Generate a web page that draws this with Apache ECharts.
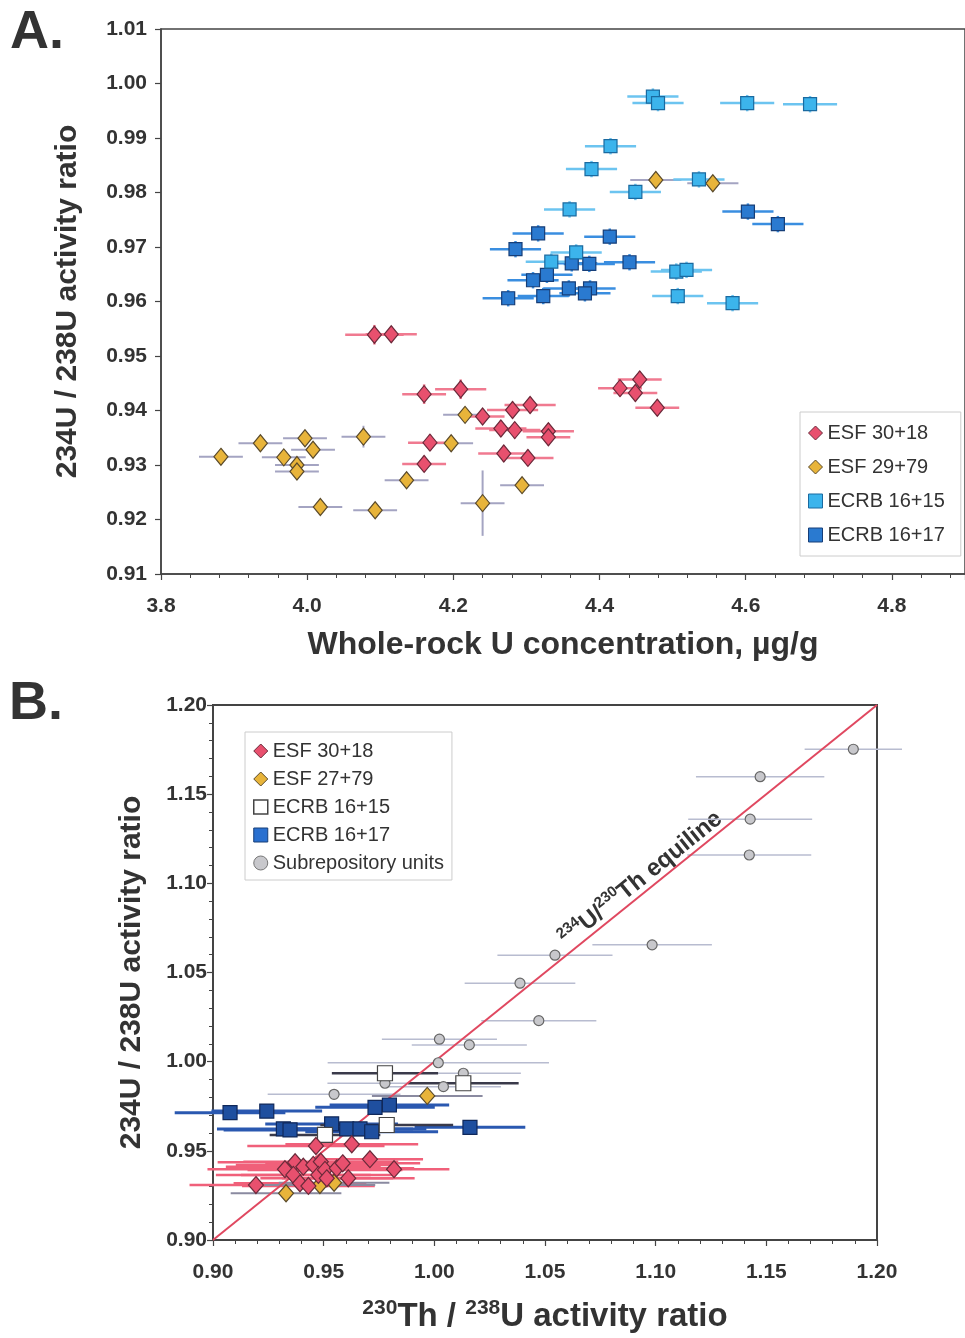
<!DOCTYPE html>
<html>
<head>
<meta charset="utf-8">
<script src="https://cdn.jsdelivr.net/npm/echarts@6/dist/echarts.min.js"></script>
<style>
  body { margin: 0; background: #fff; }
  #main { width: 965px; height: 1338px; }
</style>
</head>
<body>
<div id="main"></div>
<script>
// panel A: [U conc µg/g, 234U/238U, ±x, ±y]
var esf3018A = [
  [4.092, 0.9539, 0.040, 0.0018], [4.115, 0.9540, 0.035, 0.0015],
  [4.160, 0.9430, 0.030, 0.0018], [4.210, 0.9439, 0.035, 0.0018],
  [4.240, 0.9389, 0.030, 0.0012], [4.281, 0.9401, 0.035, 0.0015],
  [4.305, 0.9410, 0.035, 0.0015], [4.265, 0.9367, 0.035, 0.0015],
  [4.284, 0.9364, 0.035, 0.0015], [4.330, 0.9362, 0.035, 0.0015],
  [4.330, 0.9351, 0.030, 0.0015], [4.168, 0.9341, 0.030, 0.0015],
  [4.160, 0.9302, 0.030, 0.0015], [4.269, 0.9321, 0.035, 0.0015],
  [4.302, 0.9313, 0.035, 0.0015], [4.428, 0.9441, 0.030, 0.0015],
  [4.455, 0.9457, 0.030, 0.0015], [4.449, 0.9432, 0.030, 0.0015],
  [4.479, 0.9405, 0.030, 0.0015]
];
var esf2979A = [
  [3.882, 0.9315, 0.030, 0.0012], [3.936, 0.9340, 0.030, 0.0012],
  [3.997, 0.9349, 0.030, 0.0012], [4.008, 0.9328, 0.030, 0.0012],
  [3.968, 0.9314, 0.030, 0.0012], [3.986, 0.9300, 0.030, 0.0012],
  [3.986, 0.9288, 0.030, 0.0012], [4.077, 0.9352, 0.030, 0.0020],
  [4.197, 0.9340, 0.030, 0.0015], [4.216, 0.9392, 0.030, 0.0012],
  [4.136, 0.9272, 0.030, 0.0012], [4.018, 0.9223, 0.030, 0.0012],
  [4.093, 0.9217, 0.030, 0.0012], [4.240, 0.9230, 0.030, 0.0060],
  [4.294, 0.9263, 0.030, 0.0012], [4.477, 0.9823, 0.035, 0.0015],
  [4.555, 0.9817, 0.035, 0.0015]
];
var ecrb1615A = [
  [4.473, 0.9976, 0.035, 0.0015], [4.480, 0.9964, 0.035, 0.0015],
  [4.602, 0.9964, 0.037, 0.0015], [4.688, 0.9962, 0.037, 0.0015],
  [4.415, 0.9885, 0.035, 0.0015], [4.389, 0.9843, 0.035, 0.0015],
  [4.449, 0.9801, 0.035, 0.0015], [4.536, 0.9824, 0.035, 0.0015],
  [4.359, 0.9769, 0.035, 0.0015], [4.368, 0.9690, 0.035, 0.0015],
  [4.334, 0.9673, 0.035, 0.0015], [4.505, 0.9655, 0.035, 0.0015],
  [4.519, 0.9658, 0.035, 0.0015], [4.507, 0.9610, 0.035, 0.0015],
  [4.582, 0.9597, 0.035, 0.0015]
];
var ecrb1617A = [
  [4.603, 0.9765, 0.035, 0.0015], [4.644, 0.9742, 0.035, 0.0015],
  [4.316, 0.9725, 0.035, 0.0015], [4.414, 0.9719, 0.035, 0.0015],
  [4.285, 0.9696, 0.035, 0.0015], [4.362, 0.9670, 0.035, 0.0015],
  [4.386, 0.9669, 0.035, 0.0015], [4.441, 0.9672, 0.035, 0.0015],
  [4.309, 0.9639, 0.035, 0.0015], [4.328, 0.9649, 0.035, 0.0015],
  [4.358, 0.9624, 0.035, 0.0015], [4.387, 0.9624, 0.035, 0.0015],
  [4.380, 0.9615, 0.035, 0.0015], [4.323, 0.9610, 0.035, 0.0015],
  [4.275, 0.9606, 0.035, 0.0015]
];

// panel B: [230Th/238U, 234U/238U, ±x, ±y]
var esf3018B = [
  [0.9465, 0.9527, 0.031, 0], [0.9627, 0.9537, 0.030, 0],
  [0.9709, 0.9453, 0.024, 0], [0.9818, 0.9397, 0.025, 0],
  [0.9194, 0.9308, 0.030, 0], [0.9325, 0.9397, 0.035, 0],
  [0.9371, 0.9436, 0.035, 0], [0.9363, 0.9365, 0.035, 0],
  [0.9408, 0.9411, 0.035, 0], [0.9393, 0.9318, 0.030, 0],
  [0.9431, 0.9303, 0.030, 0], [0.9453, 0.9421, 0.035, 0],
  [0.9487, 0.9439, 0.035, 0], [0.9476, 0.9365, 0.035, 0],
  [0.9506, 0.9393, 0.035, 0], [0.9559, 0.9402, 0.035, 0],
  [0.9586, 0.9430, 0.035, 0], [0.9611, 0.9346, 0.030, 0],
  [0.9514, 0.9346, 0.030, 0]
];
var esf2779B = [
  [0.9968, 0.9808, 0.025, 0], [0.9330, 0.9262, 0.025, 0],
  [0.9483, 0.9308, 0.025, 0], [0.9547, 0.9321, 0.025, 0]
];
var ecrb1615B = [
  [0.9777, 0.9935, 0.024, 0], [1.0131, 0.9879, 0.025, 0],
  [0.9785, 0.9645, 0.030, 0], [0.9506, 0.9589, 0.025, 0]
];
var ecrb1617B = [
  [0.9077, 0.9714, 0.025, 0], [0.9243, 0.9723, 0.025, 0],
  [0.9732, 0.9744, 0.027, 0], [0.9797, 0.9757, 0.027, 0],
  [1.0161, 0.9632, 0.025, 0], [0.9318, 0.9623, 0.030, 0],
  [0.9348, 0.9617, 0.030, 0], [0.9536, 0.9651, 0.030, 0],
  [0.9604, 0.9623, 0.030, 0], [0.9664, 0.9623, 0.030, 0],
  [0.9717, 0.9607, 0.030, 0]
];
var subrepB = [
  [1.1893, 1.1752, 0.022, 0], [1.1472, 1.1598, 0.029, 0],
  [1.1427, 1.1360, 0.028, 0], [1.1423, 1.1159, 0.028, 0],
  [1.0984, 1.0655, 0.027, 0], [1.0545, 1.0597, 0.026, 0],
  [1.0387, 1.0440, 0.025, 0], [1.0472, 1.0230, 0.026, 0],
  [1.0023, 1.0126, 0.026, 0], [1.0158, 1.0094, 0.026, 0],
  [1.0018, 0.9994, 0.050, 0], [1.0131, 0.9935, 0.026, 0],
  [0.9777, 0.9879, 0.026, 0], [0.9547, 0.9817, 0.030, 0],
  [1.0041, 0.9860, 0.026, 0]
];
var equiline = [0.90, 1.20];

var rangeAx = [3.8, 4.9], rangeAy = [0.91, 1.01];
var rangeB = [0.90, 1.20];

var fontF = "'Liberation Sans', Arial, sans-serif";
var ink = '#333';

var myChart = echarts.init(document.getElementById('main'));

function pts(d) {
  return d.map(function (p) { return [p[0], p[1]]; });
}

function errSeries(d, gi, color, width) {
  return {
    type: 'custom', xAxisIndex: gi, yAxisIndex: gi, data: d, z: 1, silent: true,
    encode: { x: 0, y: 1 },
    renderItem: function (params, api) {
      var x = api.value(0), y = api.value(1), xe = api.value(2), ye = api.value(3);
      var a = api.coord([x - xe, y]), b = api.coord([x + xe, y]);
      var ch = [{ type: 'line', shape: { x1: a[0], y1: a[1], x2: b[0], y2: b[1] },
                  style: { stroke: color, lineWidth: width } }];
      if (ye > 0) {
        var c = api.coord([x, y - ye]), e = api.coord([x, y + ye]);
        ch.push({ type: 'line', shape: { x1: c[0], y1: c[1], x2: e[0], y2: e[1] },
                  style: { stroke: color, lineWidth: width } });
      }
      return { type: 'group', children: ch };
    }
  };
}

function dots(name, d, gi, symbol, size, fill, border) {
  return {
    type: 'scatter', name: name, xAxisIndex: gi, yAxisIndex: gi, data: pts(d), z: 3,
    symbol: symbol, symbolSize: size,
    itemStyle: { color: fill, borderColor: border, borderWidth: 1.2, opacity: 1 }
  };
}

function valAxis(gi, range, interval, digits, extra) {
  var ax = {
    type: 'value', gridIndex: gi, min: range[0], max: range[1], interval: interval,
    axisLine: { show: true, lineStyle: { color: '#444', width: 1.5 } },
    axisTick: { show: true, length: 6, lineStyle: { color: '#444', width: 1.2 } },
    splitLine: { show: false },
    axisLabel: {
      color: ink, fontFamily: fontF, fontWeight: 'bold', fontSize: 21,
      formatter: function (v) { return v.toFixed(digits); }
    },
    nameLocation: 'middle',
    nameTextStyle: { color: ink, fontFamily: fontF, fontWeight: 'bold' }
  };
  for (var k in extra) ax[k] = extra[k];
  return ax;
}

var legendText = { color: ink, fontFamily: fontF, fontSize: 20 };

var option = {
  animation: false,
  backgroundColor: '#fff',
  grid: [
    { left: 161, top: 29, width: 810, height: 545, show: true, borderColor: '#444', borderWidth: 1.5 },
    { left: 213, top: 705, width: 664, height: 535, show: true, borderColor: '#444', borderWidth: 2 }
  ],
  xAxis: [
    valAxis(0, rangeAx, 0.2, 1, {
      minorTick: { show: true, splitNumber: 5, length: 4, lineStyle: { color: '#444' } },
      name: 'Whole-rock U concentration, µg/g', nameGap: 55,
      nameTextStyle: { color: ink, fontFamily: fontF, fontWeight: 'bold', fontSize: 32 }
    }),
    valAxis(1, rangeB, 0.05, 2, {
      minorTick: { show: true, splitNumber: 5, length: 4, lineStyle: { color: '#444' } },
      name: '{s|230}{b|Th / }{s|238}{b|U activity ratio}', nameGap: 58,
      nameTextStyle: {
        rich: {
          s: { fontFamily: fontF, fontWeight: 'bold', fontSize: 21, color: ink, verticalAlign: 'top', lineHeight: 35 },
          b: { fontFamily: fontF, fontWeight: 'bold', fontSize: 33, color: ink, verticalAlign: 'bottom', lineHeight: 35 }
        }
      }
    })
  ],
  yAxis: [
    valAxis(0, rangeAy, 0.01, 2, {
      name: '234U / 238U activity ratio', nameGap: 78, nameRotate: 90,
      nameTextStyle: { color: ink, fontFamily: fontF, fontWeight: 'bold', fontSize: 30 }
    }),
    valAxis(1, rangeB, 0.05, 2, {
      minorTick: { show: true, splitNumber: 5, length: 4, lineStyle: { color: '#444' } },
      name: '234U / 238U activity ratio', nameGap: 66, nameRotate: 90,
      nameTextStyle: { color: ink, fontFamily: fontF, fontWeight: 'bold', fontSize: 30 }
    })
  ],
  legend: [
    {
      left: 800, top: 412, orient: 'vertical', itemGap: 14, itemWidth: 14, itemHeight: 14,
      padding: [11, 16, 11, 8], backgroundColor: '#fff', borderColor: '#ccc', borderWidth: 1,
      textStyle: legendText,
      selectedMode: false,
      data: [
        { name: 'ESF 30+18', icon: 'diamond', itemStyle: { color: '#e8506e', borderColor: '#6a2a3a', borderWidth: 1 } },
        { name: 'ESF 29+79', icon: 'diamond', itemStyle: { color: '#e8b43a', borderColor: '#5a4a2a', borderWidth: 1 } },
        { name: 'ECRB 16+15', icon: 'rect', itemStyle: { color: '#3cb4ec', borderColor: '#1a6aa0', borderWidth: 1 } },
        { name: 'ECRB 16+17', icon: 'rect', itemStyle: { color: '#2a7ad0', borderColor: '#163e78', borderWidth: 1 } }
      ]
    },
    {
      left: 245, top: 732, orient: 'vertical', itemGap: 8, itemWidth: 14, itemHeight: 14,
      padding: [9, 8, 7, 8], backgroundColor: '#fff', borderColor: '#ccc', borderWidth: 1,
      textStyle: legendText,
      selectedMode: false,
      data: [
        { name: 'ESF 30+18', icon: 'diamond', itemStyle: { color: '#e8506e', borderColor: '#6a2a3a', borderWidth: 1 } },
        { name: 'ESF 27+79', icon: 'diamond', itemStyle: { color: '#e8b43a', borderColor: '#5a4a2a', borderWidth: 1 } },
        { name: 'ECRB 16+15', icon: 'rect', itemStyle: { color: '#fff', borderColor: '#444', borderWidth: 1.5 } },
        { name: 'ECRB 16+17', icon: 'rect', itemStyle: { color: '#2a70d0', borderColor: '#163e78', borderWidth: 1 } },
        { name: 'Subrepository units', icon: 'circle', itemStyle: { color: '#c8c8cc', borderColor: '#777', borderWidth: 1 } }
      ]
    }
  ],
  graphic: [
    { id: 'labA', type: 'text', left: 10, top: 6, style: { text: 'A.', font: 'bold 54px ' + fontF, fill: ink } },
    { id: 'labB', type: 'text', left: 9, top: 677, style: { text: 'B.', font: 'bold 54px ' + fontF, fill: ink } }
  ],
  series: [
    // panel A
    errSeries(esf2979A, 0, '#a4a4c2', 2),
    errSeries(esf3018A, 0, '#f07a90', 2.5),
    errSeries(ecrb1617A, 0, '#3a8ee0', 2.5),
    errSeries(ecrb1615A, 0, '#6cc4f0', 2.5),
    dots('ESF 29+79', esf2979A, 0, 'diamond', [14, 17], '#e8b43a', '#5a4a2a'),
    dots('ESF 30+18', esf3018A, 0, 'diamond', [14, 17], '#e8506e', '#6a2a3a'),
    dots('ECRB 16+17', ecrb1617A, 0, 'rect', 13, '#2a7ad0', '#163e78'),
    dots('ECRB 16+15', ecrb1615A, 0, 'rect', 13, '#3cb4ec', '#1a6aa0'),
    // panel B
    errSeries(subrepB, 1, '#b8bcd0', 1.5),
    {
      type: 'line', xAxisIndex: 1, yAxisIndex: 1, z: 2, silent: true, symbol: 'none',
      data: [[equiline[0], equiline[0]], [equiline[1], equiline[1]]],
      lineStyle: { color: '#e04860', width: 2 }
    },
    errSeries(esf3018B, 1, '#f0607a', 2.5),
    errSeries(esf2779B, 1, '#8a8aa0', 2),
    errSeries(ecrb1617B, 1, '#2a58b0', 3),
    errSeries(ecrb1615B, 1, '#3a3a4a', 2.5),
    dots('Subrepository units', subrepB, 1, 'circle', 10, '#c8c8cc', '#666'),
    dots('ECRB 16+17', ecrb1617B, 1, 'rect', 14, '#1f4f9f', '#10285a'),
    dots('ECRB 16+15', ecrb1615B, 1, 'rect', 15, '#fff', '#444'),
    dots('ESF 27+79', esf2779B, 1, 'diamond', [15, 17], '#e8b43a', '#5a4a2a'),
    dots('ESF 30+18', esf3018B, 1, 'diamond', [15, 17], '#e8506e', '#6a2a3a')
  ]
};
option.xAxis[0].axisLabel.showMaxLabel = false;
option.xAxis[0].axisLabel.margin = 22;
option.xAxis[1].axisLabel.margin = 22;
option.yAxis[0].axisLabel.margin = 14;
option.yAxis[1].axisLabel.margin = 6;

myChart.setOption(option);

// equiline label, rotated along the 1:1 line
var p0 = myChart.convertToPixel({ gridIndex: 1 }, [equiline[0], equiline[0]]);
var p1 = myChart.convertToPixel({ gridIndex: 1 }, [equiline[1], equiline[1]]);
var ang = Math.atan2(p0[1] - p1[1], p1[0] - p0[0]);
var pm = myChart.convertToPixel({ gridIndex: 1 }, [1.097, 1.097]);
var off = 14;
myChart.setOption({
  graphic: [{
    id: 'eqLabel', type: 'text',
    x: pm[0] - Math.sin(ang) * off, y: pm[1] - Math.cos(ang) * off,
    rotation: ang,
    style: {
      text: '{s|234}{b|U/}{s|230}{b|Th equiline}',
      align: 'center', verticalAlign: 'middle',
      rich: {
        s: { font: 'bold 15px ' + fontF, fill: ink, verticalAlign: 'top', lineHeight: 27 },
        b: { font: 'bold 24px ' + fontF, fill: ink, verticalAlign: 'bottom', lineHeight: 27 }
      }
    }
  }]
});

window.addEventListener('resize', function () { myChart.resize(); });
</script>
</body>
</html>
